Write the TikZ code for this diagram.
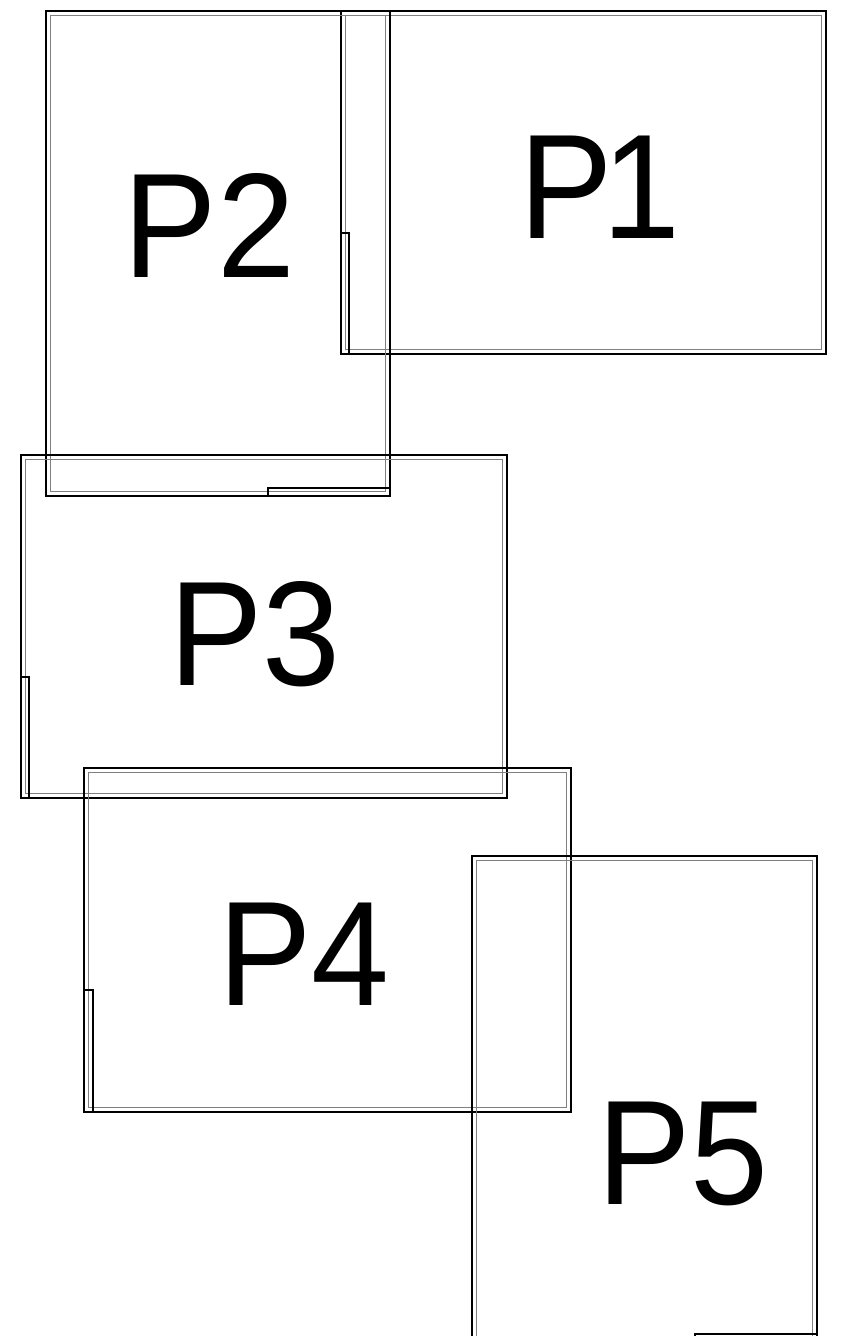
\documentclass[tikz,border=0pt]{standalone}
\usepackage{fontspec}
\setmainfont{Liberation Sans}
\tikzset{
  outerline/.style={draw=black, line width=2pt},
  innerline/.style={draw=black!50, line width=1.6pt},
  tabline/.style={draw=black, line width=2pt},
  plabel/.style={inner sep=0pt, anchor=base, font=\fontsize{149}{149}\selectfont}
}
\newcommand\mypanel[4]{%
  \draw[outerline] (#1,#2) rectangle (#3,#4);
  \draw[innerline] (#1+4.5,#2+4.5) rectangle (#3-4.5,#4-4.5);
}
\newcommand\ptxt[1]{\scalebox{0.94}[1]{#1}}
\begin{document}
\begin{tikzpicture}[x=1pt,y=-1pt]
\useasboundingbox (0,0) rectangle (852,1336);
\clip (0,0) rectangle (852,1336);
% P1
\mypanel{341}{11}{826}{354}
\draw[tabline] (341,233) rectangle (349,354);
% P2
\mypanel{46}{11}{390}{496}
\draw[tabline] (268,488) rectangle (390,496);
% P3
\mypanel{21}{455}{507}{798}
\draw[tabline] (21,677) rectangle (29,798);
% P4
\mypanel{84}{768}{571}{1112}
\draw[tabline] (84,990) rectangle (93,1112);
% P5
\mypanel{472}{856}{817}{1345}
\draw[tabline] (695,1334) rectangle (817,1345);
% labels
\node[plabel] (p1) at (600,238) {\ptxt{P\kern-12pt1}};
\node[plabel] (p2) at (209.5,277) {\ptxt{P2}};
\node[plabel] (p3) at (255,685) {\ptxt{P3}};
\node[plabel] (p4) at (304,1005) {\ptxt{P4}};
\node[plabel] (p5) at (683,1204) {\ptxt{P5}};
\end{tikzpicture}
\end{document}
